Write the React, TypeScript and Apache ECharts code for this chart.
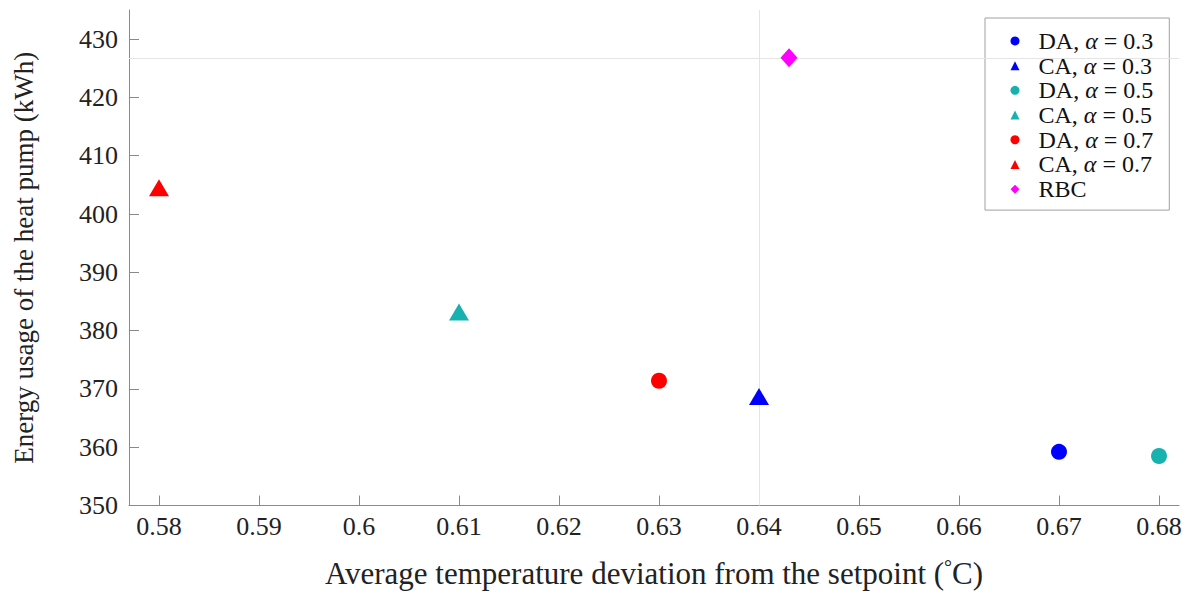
import React, { useEffect, useRef } from "react";
import * as echarts from "echarts";

const seriesNames = [
  "DA, α = 0.3",
  "CA, α = 0.3",
  "DA, α = 0.5",
  "CA, α = 0.5",
  "DA, α = 0.7",
  "CA, α = 0.7",
  "RBC",
];
const xValues = [0.67, 0.64, 0.68, 0.61, 0.63, 0.58, 0.643];
const yValues = [359.2, 368.7, 358.5, 383.2, 371.4, 404.5, 426.8];
const symbols = ["circle", "triangle", "circle", "triangle", "circle", "triangle", "diamond"];
const colors = ["#0000ff", "#0000ff", "#17b2b0", "#17b2b0", "#ff0000", "#ff0000", "#ff00ff"];
const xTicks = [0.58, 0.59, 0.6, 0.61, 0.62, 0.63, 0.64, 0.65, 0.66, 0.67, 0.68];
const yTicks = [350, 360, 370, 380, 390, 400, 410, 420, 430];
const rbcX = 0.643;
const rbcY = 426.8;

const FONT = "'Liberation Serif', 'Times New Roman', serif";

export default function App() {
  const ref = useRef<HTMLDivElement>(null);
  useEffect(() => {
    if (!ref.current) return;
    const chart = echarts.init(ref.current, null, { renderer: "svg" });
    const sizeFor = (s: string) =>
      s === "circle" ? 16 : s === "triangle" ? [20, 17] : [17, 19];
    const series: any[] = seriesNames.map((name, i) => ({
      type: "scatter",
      name,
      data: [[xValues[i], yValues[i]]],
      symbol: symbols[i],
      symbolSize: sizeFor(symbols[i]),
      itemStyle: { color: colors[i], opacity: 1 },
      z: 5,
    }));
    series.push({
      type: "line",
      name: "refLines",
      data: [],
      silent: true,
      markLine: {
        silent: true,
        symbol: "none",
        label: { show: false },
        lineStyle: { color: "#e4e4e4", width: 1, type: "solid" },
        data: [{ xAxis: rbcX }, { yAxis: rbcY }],
      },
      z: 1,
    });
    const fmt = (v: number) => String(+v.toFixed(2));
    chart.setOption({
      animation: false,
      backgroundColor: "#ffffff",
      grid: { left: 129, right: 14, top: 10, bottom: 85 },
      legend: {
        data: seriesNames.map((n, i) => ({ name: n, icon: symbols[i] })),
        orient: "vertical",
        left: 985,
        top: 18,
        padding: [10.6, 16, 8.6, 25.5],
        itemWidth: 9,
        itemHeight: 9,
        itemGap: 0,
        backgroundColor: "#ffffff",
        borderColor: "#a0a0a0",
        borderWidth: 1,
        borderRadius: 0,
        selectedMode: false,
        formatter: (name: string) => name.replace("α", "{a|α}"),
        textStyle: {
          fontFamily: FONT,
          fontSize: 24,
          color: "#111111",
          lineHeight: 24.7,
          padding: [0, 0, 0, 14],
          rich: {
            a: { fontFamily: FONT, fontSize: 24, fontStyle: "italic", color: "#111111", lineHeight: 24.7 },
          },
        },
      },
      xAxis: {
        type: "value",
        min: 0.577,
        max: 0.682,
        name: "Average temperature deviation from the setpoint ({s|°}C)",
        nameLocation: "middle",
        nameGap: 51,
        nameTextStyle: {
          fontFamily: FONT,
          fontSize: 31,
          color: "#222222",
          rich: {
            s: { fontFamily: FONT, fontSize: 20, color: "#222222", verticalAlign: "top", padding: [0, 0, 14, 0] },
          },
        },
        axisLine: { show: true, onZero: false, lineStyle: { color: "#8a8a8a", width: 1 } },
        axisTick: { show: true, inside: true, length: 10, customValues: xTicks, lineStyle: { color: "#8a8a8a" } },
        axisLabel: {
          customValues: xTicks,
          formatter: fmt,
          fontFamily: FONT,
          fontSize: 26,
          color: "#222222",
          margin: 8,
        },
        splitLine: { show: false },
      },
      yAxis: {
        type: "value",
        min: 350,
        max: 435,
        name: "Energy usage of the heat pump (kWh)",
        nameLocation: "middle",
        nameGap: 92,
        nameTextStyle: { fontFamily: FONT, fontSize: 27, color: "#222222" },
        axisLine: { show: true, onZero: false, lineStyle: { color: "#8a8a8a", width: 1 } },
        axisTick: { show: true, inside: true, length: 10, customValues: yTicks, lineStyle: { color: "#8a8a8a" } },
        axisLabel: {
          customValues: yTicks,
          fontFamily: FONT,
          fontSize: 26,
          color: "#222222",
          margin: 11,
        },
        splitLine: { show: false },
      },
      series,
    });
    return () => chart.dispose();
  }, []);
  return (
    <div
      ref={ref}
      style={{ position: "absolute", left: 0, top: 0, width: 1193, height: 594 }}
    />
  );
}
